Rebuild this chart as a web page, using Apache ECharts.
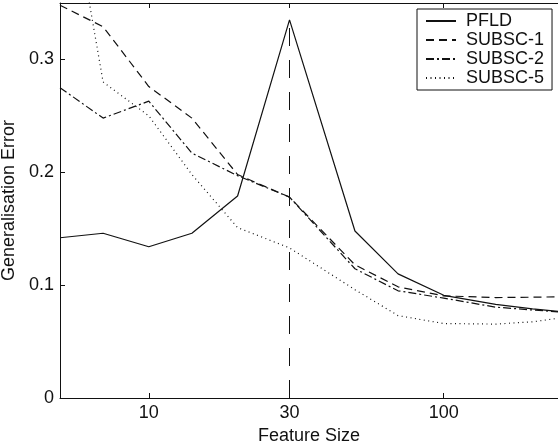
<!DOCTYPE html>
<html>
<head>
<meta charset="utf-8">
<script src="https://cdn.jsdelivr.net/npm/echarts@6/dist/echarts.min.js"></script>
<style>
  html, body { margin: 0; padding: 0; background: #fff; }
  #chart { width: 558px; height: 444px; }
</style>
</head>
<body>
<div id="chart"></div>
<script>
// feature sizes (log x axis) and generalisation error per method
var featureSize = [5, 7, 10, 14, 20, 30, 50, 70, 100, 150, 200, 250];
var pfld    = [0.142, 0.146, 0.134, 0.146, 0.179, 0.335, 0.148, 0.110, 0.091, 0.083, 0.079, 0.0765];
var subsc1  = [0.348, 0.329, 0.276, 0.248, 0.198, 0.178, 0.118, 0.0985, 0.0905, 0.089, 0.0893, 0.0897];
var subsc2  = [0.275, 0.248, 0.263, 0.217, 0.197, 0.178, 0.1145, 0.095, 0.0885, 0.0805, 0.078, 0.0762];
var subsc5  = [0.50, 0.28, 0.25, 0.198, 0.151, 0.133, 0.096, 0.073, 0.066, 0.0655, 0.0675, 0.071];
var xTicks  = [10, 30, 100];
var names   = ["PFLD", "SUBSC-1", "SUBSC-2", "SUBSC-5"];

var FONT = "Liberation Sans";
var INK = "#111";

function pairs(vals) {
    var out = [];
    for (var i = 0; i < featureSize.length; ++i) {
        out.push([featureSize[i], vals[i]]);
    }
    return out;
}

function lineSeries(name, vals, dash) {
    return {
        name: name,
        type: "line",
        data: pairs(vals),
        symbol: "none",
        clip: true,
        silent: true,
        lineStyle: { color: INK, width: 1.2, type: dash },
        itemStyle: { color: INK }
    };
}

// the vertical dashed marker sits at the PFLD peak
var peak = 5;
var series = [
    lineSeries(names[0], pfld, "solid"),
    lineSeries(names[1], subsc1, [8, 5]),
    lineSeries(names[2], subsc2, [8, 3, 2, 3]),
    lineSeries(names[3], subsc5, [1, 3.5])
];
series[0].markLine = {
    silent: true,
    symbol: ["none", "none"],
    label: { show: false },
    lineStyle: { color: INK, width: 1, type: [18, 14] },
    data: [[{ coord: [featureSize[peak], 0] }, { coord: [featureSize[peak], pfld[peak]] }]]
};

var xBase = {
    type: "log",
    logBase: 10,
    min: 5,
    max: 244,
    axisLine: { show: true, lineStyle: { color: INK, width: 1 } },
    axisTick: { show: true, inside: true, length: 5, customValues: xTicks, lineStyle: { color: INK } },
    splitLine: { show: false },
    minorTick: { show: false }
};

var chart = echarts.init(document.getElementById("chart"), null, { renderer: "canvas" });
chart.setOption({
    backgroundColor: "#fff",
    animation: false,
    textStyle: { fontFamily: FONT },
    grid: { left: 60, right: 0, top: 3, bottom: 46, containLabel: false, outerBoundsMode: "none" },
    legend: {
        orient: "vertical",
        left: 417,
        top: 9,
        data: names,
        itemWidth: 30,
        itemHeight: 10,
        itemGap: 1,
        padding: [3, 8, 3, 8],
        backgroundColor: "#fff",
        borderColor: INK,
        borderWidth: 1,
        borderRadius: 0,
        selectedMode: false,
        itemStyle: { color: "rgba(0,0,0,0)", borderWidth: 0 },
        textStyle: { color: INK, fontSize: 18, lineHeight: 18, fontFamily: FONT, padding: [0, 0, 0, 5] }
    },
    xAxis: [
        Object.assign({}, xBase, {
            position: "bottom",
            name: "Feature Size",
            nameLocation: "middle",
            nameGap: 26,
            nameTextStyle: { color: INK, fontSize: 18, fontFamily: FONT },
            axisLabel: { show: true, customValues: xTicks, margin: 6, color: INK, fontSize: 18, fontFamily: FONT }
        }),
        Object.assign({}, xBase, {
            position: "top",
            axisLabel: { show: false }
        })
    ],
    yAxis: {
        type: "value",
        min: 0,
        max: 0.35,
        interval: 0.1,
        name: "Generalisation Error",
        nameLocation: "middle",
        nameGap: 38,
        nameTextStyle: { color: INK, fontSize: 18, fontFamily: FONT },
        axisLine: { show: true, lineStyle: { color: INK, width: 1 } },
        axisTick: { show: true, inside: true, length: 5, lineStyle: { color: INK } },
        axisLabel: { margin: 6, color: INK, fontSize: 18, fontFamily: FONT, showMaxLabel: false },
        splitLine: { show: false }
    },
    series: series
});
</script>
</body>
</html>
